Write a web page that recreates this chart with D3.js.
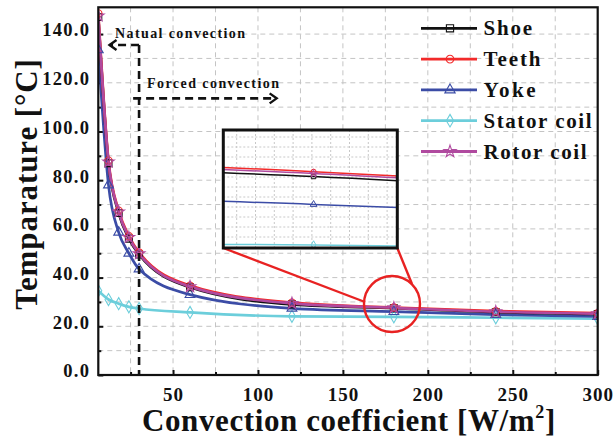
<!DOCTYPE html>
<html><head><meta charset="utf-8">
<script src="https://cdn.jsdelivr.net/npm/d3@7"></script>
<style>
html,body{margin:0;padding:0;background:#fff;}
text{font-family:"Liberation Serif","Times New Roman",serif;font-weight:bold;fill:#111;}
</style></head>
<body><svg id="c" width="615" height="441"></svg>
<script>
// ---- data ----
const xValues = [6, 12, 18, 24, 30, 60, 120, 180, 240, 300];
const shoe   = [147.0, 87.0, 66.5, 56.0, 49.5, 36.0, 29.0, 27.45, 25.8, 25.0];
const teeth  = [148.5, 88.0, 67.5, 57.0, 50.3, 36.7, 29.7, 27.7, 26.2, 25.4];
const yoke   = [133.5, 78.0, 58.6, 50.0, 43.5, 33.0, 27.4, 26.0, 24.8, 24.0];
const stator = [34.6, 31.0, 29.3, 28.0, 27.3, 25.7, 24.1, 23.9, 23.5, 23.1];
const rotor  = [147.5, 87.5, 67.0, 56.5, 49.8, 36.3, 29.4, 27.6, 26.0, 25.2];
const seriesNames = ["Shoe", "Teeth", "Yoke", "Stator coil", "Rotor coil"];
const xTickLabels = [50, 100, 150, 200, 250, 300];
const yTickLabels = [0, 20, 40, 60, 80, 100, 120, 140];

const colors = {"Shoe":"#111111","Teeth":"#f22a2a","Yoke":"#3b4ca6","Stator coil":"#6ccedb","Rotor coil":"#b04a9f"};
const symbols = {"Shoe":d3.symbolSquare,"Teeth":d3.symbolCircle,"Yoke":d3.symbolTriangle,"Stator coil":d3.symbolDiamond,"Rotor coil":d3.symbolStar};
const valuesOf = {"Shoe":shoe,"Teeth":teeth,"Yoke":yoke,"Stator coil":stator,"Rotor coil":rotor};
const drawOrder = ["Stator coil","Yoke","Shoe","Teeth","Rotor coil"];

const svg = d3.select("#c");
const L = 98.3, R = 597.7, T = 7.3, B = 375;
const x = d3.scaleLinear().domain([6, 300]).range([L, R]);
const y = d3.scaleLinear().domain([0, 151]).range([B, T]);

// grid
const g = svg.append("g");
g.selectAll(".vg").data(d3.range(25, 300, 25)).enter().append("line")
  .attr("x1", d => x(d)).attr("x2", d => x(d)).attr("y1", T).attr("y2", B)
  .attr("stroke", "#c4c4c4").attr("stroke-width", 1).attr("stroke-dasharray", "5,4");
g.selectAll(".hg").data(d3.range(10, 150, 10)).enter().append("line")
  .attr("x1", L).attr("x2", R).attr("y1", d => y(d)).attr("y2", d => y(d))
  .attr("stroke", "#c4c4c4").attr("stroke-width", 1).attr("stroke-dasharray", "5,4");

// axes
const xAxis = d3.axisBottom(x).tickValues(xTickLabels).tickSize(-5).tickPadding(10).tickFormat(d3.format("d"));
const xAxisMinor = d3.axisBottom(x).tickValues(d3.range(25, 300, 50)).tickSize(-3).tickFormat("");
const yAxis = d3.axisLeft(y).tickValues(yTickLabels).tickSize(-5).tickPadding(8).tickFormat(d3.format(".1f"));
const yAxisMinor = d3.axisLeft(y).tickValues(d3.range(10, 150, 20)).tickSize(-3).tickFormat("");

const gx = svg.append("g").attr("transform", `translate(0,${B})`).call(xAxis);
svg.append("g").attr("transform", `translate(0,${B})`).call(xAxisMinor).select(".domain").remove();
const gy = svg.append("g").attr("transform", `translate(${L},0)`).call(yAxis);
svg.append("g").attr("transform", `translate(${L},0)`).call(yAxisMinor).select(".domain").remove();
[gx, gy].forEach(a => a.select(".domain").remove());
svg.selectAll(".tick line").attr("stroke", "#111").attr("stroke-width", 2);
gx.selectAll(".tick text").style("font-size", "19px").style("letter-spacing", "1px")
  .attr("font-family", null).attr("dy", null).attr("y", 25.5);
gy.selectAll(".tick text").style("font-size", "18.5px").style("letter-spacing", "1.3px")
  .attr("font-family", null).attr("dy", "0.1em");

// data lines (clipped)
svg.append("clipPath").attr("id", "plotclip").append("rect")
  .attr("x", L).attr("y", T).attr("width", R - L).attr("height", B - T);
const line = d3.line().x((d, i) => x(xValues[i])).y(d => y(d)).curve(d3.curveMonotoneX);
const dl = svg.append("g").attr("clip-path", "url(#plotclip)");
drawOrder.forEach(name => {
  dl.append("path").datum(valuesOf[name]).attr("d", line)
    .attr("fill", "none").attr("stroke", colors[name]).attr("stroke-width", 2.7);
});
drawOrder.forEach(name => {
  dl.selectAll(null).data(valuesOf[name]).enter().append("path")
    .attr("transform", (d, i) => `translate(${x(xValues[i])},${y(d)})`)
    .attr("d", d3.symbol().type(symbols[name]).size(name === "Shoe" ? 48 : 42))
    .attr("fill", "none").attr("stroke", colors[name]).attr("stroke-width", 1.1);
});

// frame
svg.append("rect").attr("x", L).attr("y", T).attr("width", R - L).attr("height", B - T)
  .attr("fill", "none").attr("stroke", "#111").attr("stroke-width", 2.2);

// annotations: natural / forced convection
const dash = {"stroke":"#111","stroke-width":2.6,"stroke-dasharray":"8,5","fill":"none"};
function applyAttrs(sel, o){ Object.entries(o).forEach(([k,v]) => sel.attr(k, v)); return sel; }
const splitX = 30, natY = 135.5, forY = 113.6;
applyAttrs(svg.append("line").attr("x1", x(splitX)).attr("x2", x(splitX)).attr("y1", y(natY)).attr("y2", B), dash);
applyAttrs(svg.append("line").attr("x1", x(splitX)).attr("x2", x(12.6)).attr("y1", y(natY)).attr("y2", y(natY)), dash);
applyAttrs(svg.append("line").attr("x1", x(26.5)).attr("x2", x(110)).attr("y1", y(forY)).attr("y2", y(forY)), dash);
svg.append("path").attr("d", `M${x(12.6)+7},${y(natY)-5} L${x(12.6)},${y(natY)} L${x(12.6)+7},${y(natY)+5}`)
  .attr("fill", "none").attr("stroke", "#111").attr("stroke-width", 2.4);
svg.append("path").attr("d", `M${x(111)-7},${y(forY)-5} L${x(111)},${y(forY)} L${x(111)-7},${y(forY)+5}`)
  .attr("fill", "none").attr("stroke", "#111").attr("stroke-width", 2.4);
svg.append("text").attr("x", 115).attr("y", 37.5).style("font-size", "14px")
  .attr("textLength", 130).attr("lengthAdjust", "spacing").text("Natual convection");
svg.append("text").attr("x", 147).attr("y", 87.5).style("font-size", "14px")
  .attr("textLength", 132).attr("lengthAdjust", "spacing").text("Forced convection");

// zoom circle and connectors
const cx = 392, cy = 304, cr = 28;
const IX0 = 223.3, IX1 = 397.3, IY0 = 130, IY1 = 248;
svg.append("circle").attr("cx", cx).attr("cy", cy).attr("r", cr)
  .attr("fill", "none").attr("stroke", "#e82222").attr("stroke-width", 2.4);
svg.append("line").attr("x1", IX0).attr("y1", IY1).attr("x2", cx - cr + 1).attr("y2", cy - 2)
  .attr("stroke", "#e82222").attr("stroke-width", 2.4);
svg.append("line").attr("x1", IX1).attr("y1", IY1).attr("x2", cx + 20).attr("y2", cy - 20)
  .attr("stroke", "#e82222").attr("stroke-width", 2.4);

// inset
const ix = d3.scaleLinear().domain([171.7, 187.7]).range([IX0, IX1]);
const iy = d3.scaleLinear().domain([23.74, 29.86]).range([IY1, IY0]);
svg.append("rect").attr("x", IX0).attr("y", IY0).attr("width", IX1 - IX0).attr("height", IY1 - IY0).attr("fill", "#fff");
svg.append("clipPath").attr("id", "insetclip").append("rect")
  .attr("x", IX0).attr("y", IY0).attr("width", IX1 - IX0).attr("height", IY1 - IY0);
const ins = svg.append("g").attr("clip-path", "url(#insetclip)");
ins.selectAll(".ivg").data(d3.range(0, 9)).enter().append("line")
  .attr("x1", k => IX0 + 13.4 + k * 18.8).attr("x2", k => IX0 + 13.4 + k * 18.8)
  .attr("y1", IY0).attr("y2", IY1).attr("stroke", "#c8c8c8").attr("stroke-width", 1).attr("stroke-dasharray", "2,2");
ins.selectAll(".ihg").data(d3.range(0, 11)).enter().append("line")
  .attr("y1", k => IY0 + 7 + k * 10).attr("y2", k => IY0 + 7 + k * 10)
  .attr("x1", IX0).attr("x2", IX1).attr("stroke", "#c8c8c8").attr("stroke-width", 1).attr("stroke-dasharray", "2,2");
const iline = d3.line().x((d, i) => ix(xValues[i])).y(d => iy(d)).curve(d3.curveMonotoneX);
drawOrder.forEach(name => {
  ins.append("path").datum(valuesOf[name]).attr("d", iline)
    .attr("fill", "none").attr("stroke", colors[name]).attr("stroke-width", 1.5);
  ins.selectAll(null).data(valuesOf[name]).enter().append("path")
    .attr("transform", (d, i) => `translate(${ix(xValues[i])},${iy(d)})`)
    .attr("d", d3.symbol().type(symbols[name]).size(20))
    .attr("fill", "none").attr("stroke", colors[name]).attr("stroke-width", 1);
});
svg.append("rect").attr("x", IX0).attr("y", IY0).attr("width", IX1 - IX0).attr("height", IY1 - IY0)
  .attr("fill", "none").attr("stroke", "#111").attr("stroke-width", 3);

// legend
const legY0 = 28.3, legDY = 30.8, legX0 = 421, legX1 = 477;
const legWidths = {"Shoe":48.5,"Teeth":57,"Yoke":52,"Stator coil":108,"Rotor coil":103};
seriesNames.forEach((name, i) => {
  const yy = legY0 + i * legDY;
  svg.append("line").attr("x1", legX0).attr("x2", legX1).attr("y1", yy).attr("y2", yy)
    .attr("stroke", colors[name]).attr("stroke-width", 2.8);
  svg.append("path").attr("transform", `translate(${(legX0 + legX1) / 2 + 1},${yy})`)
    .attr("d", d3.symbol().type(symbols[name]).size(name === "Shoe" ? 52 : 46))
    .attr("fill", "none").attr("stroke", colors[name]).attr("stroke-width", 1.1);
  svg.append("text").attr("x", 483.5).attr("y", yy + 7).style("font-size", "21px")
    .attr("textLength", legWidths[name]).attr("lengthAdjust", "spacing").text(name);
});

// axis titles
const xt = svg.append("text").attr("x", 142).attr("y", 431).style("font-size", "31px").style("letter-spacing", "0.6px");
xt.append("tspan").text("Convection coefficient [W/m");
xt.append("tspan").attr("dy", -13).style("font-size", "18px").text("2");
xt.append("tspan").attr("dy", 13).text("]");
svg.append("text").attr("transform", "translate(37,184) rotate(-90)").attr("text-anchor", "middle")
  .style("font-size", "31px").style("letter-spacing", "0.9px").text("Temparature [°C]");
</script></body></html>
